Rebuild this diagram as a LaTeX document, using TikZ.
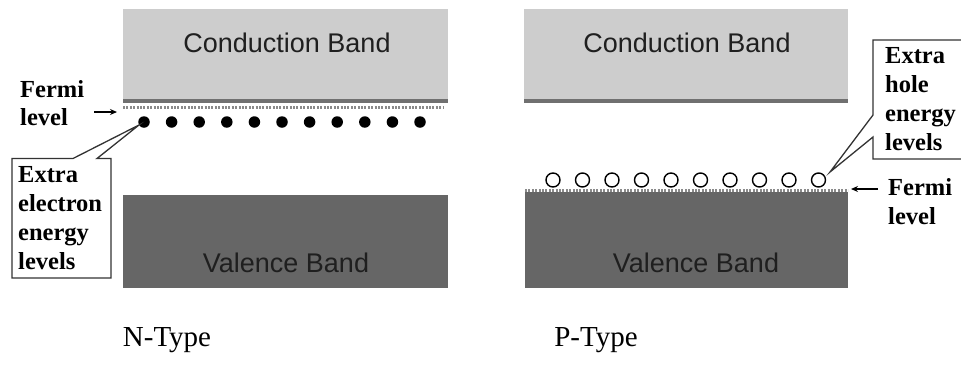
\documentclass[tikz,border=0pt]{standalone}
\usepackage{fontspec}
\setmainfont{Liberation Serif}
\newfontfamily\bandfont{Liberation Sans}
\usetikzlibrary{arrows.meta}
\definecolor{cbfill}{HTML}{CDCDCD}
\definecolor{cbedge}{HTML}{707070}
\definecolor{vbfill}{HTML}{666666}
\definecolor{fermigray}{HTML}{8A8A8A}
\tikzset{
  condband/.style={fill=cbfill, draw=none},
  valband/.style={fill=vbfill, draw=none},
  bandedge/.style={fill=cbedge, draw=none},
  bandtext/.style={font=\bandfont\fontsize{27}{27}\selectfont, text=black!88, inner sep=0pt},
  fermiline/.style={draw=fermigray, line width=2.2pt, dash pattern=on 2pt off 1.4pt},
  electron/.style={circle, fill=black, inner sep=0pt, minimum size=11.5pt},
  hole/.style={circle, draw=black, line width=1.4pt, fill=white, inner sep=0pt, minimum size=14pt},
  calloutbox/.style={draw=black!80, line width=1.3pt, fill=white},
  calltext/.style={font=\bfseries\fontsize{24.5}{29}\selectfont, align=left, inner sep=0pt, anchor=base west},
  fermitext/.style={font=\bfseries\fontsize{24.5}{28}\selectfont, align=left, inner sep=0pt, anchor=base west},
  pointer/.style={-{Stealth[length=7pt,width=6pt]}, line width=1.3pt},
  typetext/.style={font=\fontsize{29}{29}\selectfont, inner sep=0pt},
}
\begin{document}
\begin{tikzpicture}[x=1pt,y=-1pt]
\useasboundingbox (0,0) rectangle (961,365);

% ---------------- N-type ----------------
\fill[condband] (123,9) rectangle (448,101);
\fill[bandedge] (123,98.5) rectangle (448,102.5);
\node[bandtext] (ncb) at (287,43) {Conduction Band};
\draw[fermiline] (123,107.5) -- (443,107.5);
\foreach \i in {0,...,10} {
  \node[electron] (e\i) at ({144+27.6*\i},122) {};
}
\fill[valband] (123,195) rectangle (448,288);
\node[bandtext] (nvb) at (286,263) {Valence Band};

% callout for the donor levels
\coordinate (ntip) at (139,125);
\draw[calloutbox] (73,158.5) -- (ntip) -- (97,158.5) -- (111,158.5)
  -- (111,278) -- (12,278) -- (12,158.5) -- cycle;
\node[calltext] (nlab1) at (18,182) {Extra};
\node[calltext] (nlab2) at (18,211) {electron};
\node[calltext] (nlab3) at (18,240) {energy};
\node[calltext] (nlab4) at (18,269) {levels};

% Fermi level label
\node[fermitext] (nf1) at (20,97) {Fermi};
\node[fermitext] (nf2) at (20,125) {level};
\coordinate (nfa) at (94,112);
\coordinate (nfb) at (117,112);
\draw[pointer] (nfa) -- (nfb);

\node[typetext] (ntype) at (167,340) {N-Type};

% ---------------- P-type ----------------
\fill[condband] (524,9) rectangle (848,101);
\fill[bandedge] (524,98.5) rectangle (848,102.5);
\node[bandtext] (pcb) at (687,43) {Conduction Band};
\fill[valband] (525,192) rectangle (848,288);
\draw[fermiline] (525,190.5) -- (848,190.5);
\node[bandtext] (pvb) at (696,263) {Valence Band};
\foreach \i in {0,...,9} {
  \node[hole] (h\i) at ({553+29.5*\i},180) {};
}

% callout for the acceptor levels
\coordinate (ptip) at (830,172);
\draw[calloutbox] (963,40) -- (873,40) -- (873,115) -- (ptip) -- (873,137)
  -- (873,159) -- (963,159);
\node[calltext] (plab1) at (885,63) {Extra};
\node[calltext] (plab2) at (885,92) {hole};
\node[calltext] (plab3) at (885,121) {energy};
\node[calltext] (plab4) at (885,150) {levels};

% Fermi level label
\coordinate (pfa) at (878,189);
\coordinate (pfb) at (851,189);
\draw[pointer] (pfa) -- (pfb);
\node[fermitext] (pf1) at (888,195) {Fermi};
\node[fermitext] (pf2) at (888,224) {level};

\node[typetext] (ptype) at (596,340) {P-Type};
\end{tikzpicture}
\end{document}
